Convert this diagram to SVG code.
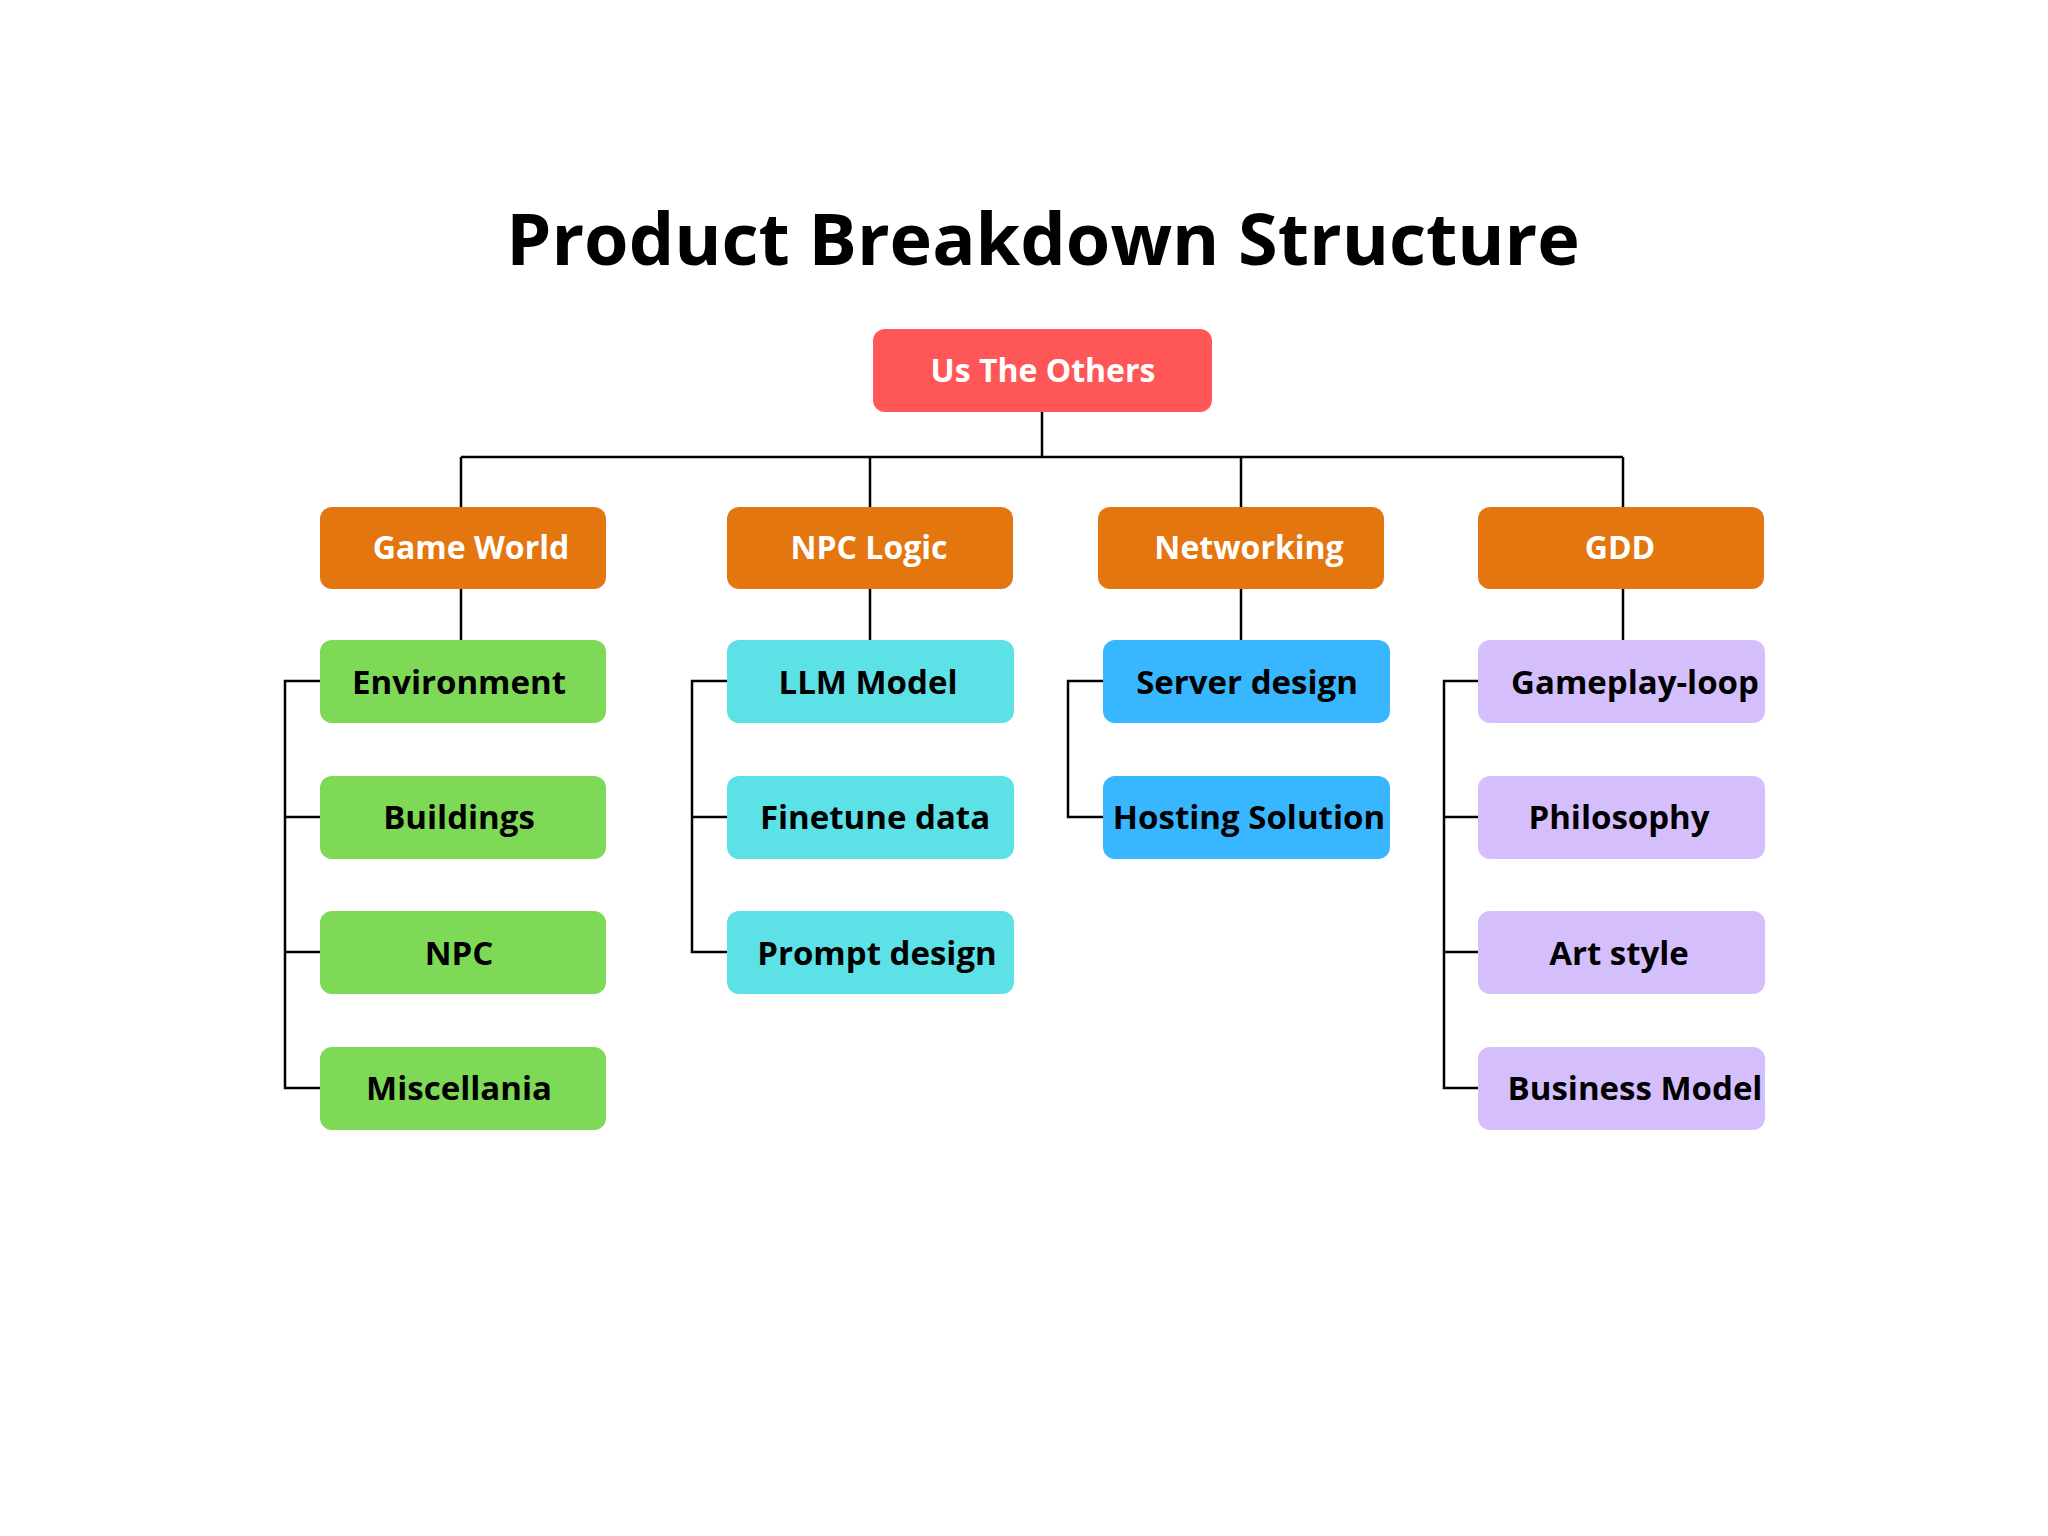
<svg xmlns="http://www.w3.org/2000/svg" width="2048" height="1536" viewBox="0 0 2048 1536">
<style>
text{font-family:"Open Sans","Noto Sans","DejaVu Sans",sans-serif;font-weight:700;text-anchor:middle}
.t{font-size:72px;fill:#000}
.w{font-size:32px;fill:#fff}
.b{font-size:33px;fill:#000}
.ln{stroke:#000;stroke-width:2.5;fill:none}
.root{fill:#FF5757}
.l1{fill:#E4760F}
.g{fill:#7ED957}
.c{fill:#5CE1E6}
.bl{fill:#38B6FF}
.p{fill:#D4BEFC}
</style>
<rect width="2048" height="1536" fill="#fff"/>
<text class="t" x="1043" y="265">Product Breakdown Structure</text>
<g id="connectors" class="ln">
<path d="M1042 412V457M461 457H1623M461 457V507M870 457V507M1241 457V507M1623 457V507"/>
<path d="M461 589V640M870 589V640M1241 589V640M1623 589V640"/>
<path d="M320 681H285V1088H320M285 817H320M285 952H320"/>
<path d="M727 681H692V952H727M692 817H727"/>
<path d="M1103 681H1068V817H1103"/>
<path d="M1478 681H1444V1088H1478M1444 817H1478M1444 952H1478"/>
</g>
<g id="root"><rect class="root" x="873" y="329" width="339" height="83" rx="12"/><text class="w" x="1043" y="382">Us The Others</text></g>
<g id="game-world"><rect class="l1" x="320" y="507" width="286" height="82" rx="12"/><text class="w" x="471" y="559">Game World</text></g>
<g id="npc-logic"><rect class="l1" x="727" y="507" width="286" height="82" rx="12"/><text class="w" x="869" y="559">NPC Logic</text></g>
<g id="networking"><rect class="l1" x="1098" y="507" width="286" height="82" rx="12"/><text class="w" x="1249" y="559">Networking</text></g>
<g id="gdd"><rect class="l1" x="1478" y="507" width="286" height="82" rx="12"/><text class="w" x="1620" y="559">GDD</text></g>
<g id="environment"><rect class="g" x="320" y="640" width="286" height="83" rx="12"/><text class="b" x="459" y="694">Environment</text></g>
<g id="buildings"><rect class="g" x="320" y="776" width="286" height="83" rx="12"/><text class="b" x="459" y="829">Buildings</text></g>
<g id="npc"><rect class="g" x="320" y="911" width="286" height="83" rx="12"/><text class="b" x="459" y="965">NPC</text></g>
<g id="miscellania"><rect class="g" x="320" y="1047" width="286" height="83" rx="12"/><text class="b" x="459" y="1100">Miscellania</text></g>
<g id="llm-model"><rect class="c" x="727" y="640" width="287" height="83" rx="12"/><text class="b" x="868" y="694">LLM Model</text></g>
<g id="finetune-data"><rect class="c" x="727" y="776" width="287" height="83" rx="12"/><text class="b" x="875" y="829">Finetune data</text></g>
<g id="prompt-design"><rect class="c" x="727" y="911" width="287" height="83" rx="12"/><text class="b" x="877" y="965">Prompt design</text></g>
<g id="server-design"><rect class="bl" x="1103" y="640" width="287" height="83" rx="12"/><text class="b" x="1247" y="694">Server design</text></g>
<g id="hosting-solution"><rect class="bl" x="1103" y="776" width="287" height="83" rx="12"/><text class="b" x="1249" y="829">Hosting Solution</text></g>
<g id="gameplay-loop"><rect class="p" x="1478" y="640" width="287" height="83" rx="12"/><text class="b" x="1635" y="694">Gameplay-loop</text></g>
<g id="philosophy"><rect class="p" x="1478" y="776" width="287" height="83" rx="12"/><text class="b" x="1619" y="829">Philosophy</text></g>
<g id="art-style"><rect class="p" x="1478" y="911" width="287" height="83" rx="12"/><text class="b" x="1619" y="965">Art style</text></g>
<g id="business-model"><rect class="p" x="1478" y="1047" width="287" height="83" rx="12"/><text class="b" x="1635" y="1100">Business Model</text></g>
</svg>
